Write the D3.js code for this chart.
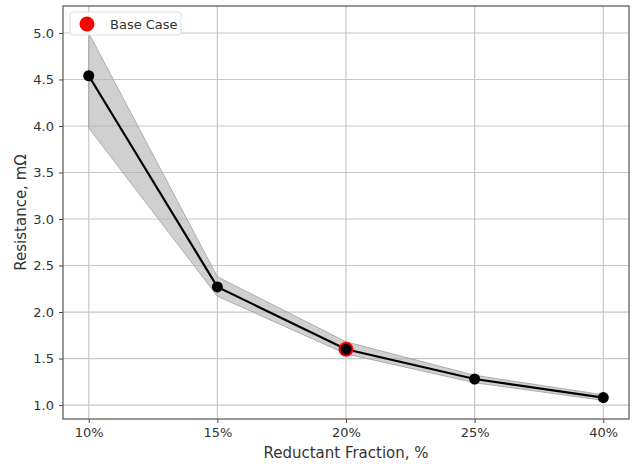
<!DOCTYPE html>
<html>
<head>
<meta charset="utf-8">
<script src="https://cdn.jsdelivr.net/npm/d3@7"></script>
<style>
  body { margin: 0; background: #fff; }
  text { font-family: "DejaVu Sans", sans-serif; fill: #333; }
</style>
</head>
<body>
<div id="chart"></div>
<script>
// data
var categories = ["10%", "15%", "20%", "25%", "40%"];
var resistance = [4.54, 2.27, 1.60, 1.28, 1.08];
var upper = [5.00, 2.38, 1.68, 1.32, 1.11];
var lower = [3.98, 2.17, 1.55, 1.24, 1.05];
var baseCase = "20%";
var yTicks = [1.0, 1.5, 2.0, 2.5, 3.0, 3.5, 4.0, 4.5, 5.0];

// set the dimensions and margins of the graph
var margin = {top: 6, right: 6, bottom: 45, left: 63},
    width = 635 - margin.left - margin.right,
    height = 464 - margin.top - margin.bottom;

var x = d3.scaleLinear()
    .domain([-0.2, categories.length - 1 + 0.2])
    .range([0, width]);
var y = d3.scaleLinear()
    .domain([0.85, 5.29])
    .range([height, 0]);

var svg = d3.select("#chart").append("svg")
    .attr("width", 635)
    .attr("height", 464)
  .append("g")
    .attr("transform", "translate(" + margin.left + "," + margin.top + ")");

var data = categories.map(function(c, i) {
  return {cat: c, i: i, v: resistance[i], hi: upper[i], lo: lower[i]};
});

// grid lines
svg.append("g")
  .selectAll("line")
  .data(yTicks)
  .enter().append("line")
    .attr("x1", 0).attr("x2", width)
    .attr("y1", function(d) { return y(d); })
    .attr("y2", function(d) { return y(d); })
    .style("stroke", "#c8c8c8")
    .style("stroke-width", 1.2);
svg.append("g")
  .selectAll("line")
  .data(data)
  .enter().append("line")
    .attr("x1", function(d) { return x(d.i); })
    .attr("x2", function(d) { return x(d.i); })
    .attr("y1", 0).attr("y2", height)
    .style("stroke", "#c8c8c8")
    .style("stroke-width", 1.2);

// shaded band
var area = d3.area()
    .x(function(d) { return x(d.i); })
    .y0(function(d) { return y(d.lo); })
    .y1(function(d) { return y(d.hi); });
svg.append("path")
    .datum(data)
    .attr("d", area)
    .style("fill", "#b0b0b0")
    .style("fill-opacity", 0.6)
    .style("stroke", "#a0a0a0")
    .style("stroke-width", 0.8);

// main line
var line = d3.line()
    .x(function(d) { return x(d.i); })
    .y(function(d) { return y(d.v); });
svg.append("path")
    .datum(data)
    .attr("d", line)
    .style("fill", "none")
    .style("stroke", "#000")
    .style("stroke-width", 2.2);

// base case marker
svg.selectAll(".base")
    .data(data.filter(function(d) { return d.cat === baseCase; }))
  .enter().append("circle")
    .attr("class", "base")
    .attr("cx", function(d) { return x(d.i); })
    .attr("cy", function(d) { return y(d.v); })
    .attr("r", 7.5)
    .style("fill", "#ff0000");

// points
svg.selectAll(".pt")
    .data(data)
  .enter().append("circle")
    .attr("class", "pt")
    .attr("cx", function(d) { return x(d.i); })
    .attr("cy", function(d) { return y(d.v); })
    .attr("r", 5.5)
    .style("fill", "#000");

// axes
var xAxis = svg.append("g")
    .attr("transform", "translate(0," + height + ")")
    .call(d3.axisBottom(x).tickValues(d3.range(categories.length))
      .tickFormat(function(i) { return categories[i]; })
      .tickSize(4).tickPadding(5));
var yAxis = svg.append("g")
    .call(d3.axisLeft(y).tickValues(yTicks)
      .tickFormat(d3.format(".1f"))
      .tickSize(4).tickPadding(5));
[xAxis, yAxis].forEach(function(a) {
  a.select(".domain").remove();
  a.selectAll("line").style("stroke", "#444");
  a.selectAll("text").style("font-size", "13px").style("fill", "#333");
});

// frame
svg.append("rect")
    .attr("width", width)
    .attr("height", height)
    .style("fill", "none")
    .style("stroke", "#555")
    .style("stroke-width", 1.2);

// legend
var legend = svg.append("g").attr("transform", "translate(7,6)");
legend.append("rect")
    .attr("width", 111)
    .attr("height", 23)
    .attr("rx", 3)
    .style("fill", "#fff")
    .style("fill-opacity", 0.85)
    .style("stroke", "#ddd");
legend.append("circle")
    .attr("cx", 17).attr("cy", 12)
    .attr("r", 7.5)
    .style("fill", "#ff0000");
legend.append("text")
    .attr("x", 40).attr("y", 16.5)
    .style("font-size", "13px")
    .text("Base Case");

// axis labels
svg.append("text")
    .attr("x", width / 2)
    .attr("y", height + 39)
    .attr("text-anchor", "middle")
    .style("font-size", "15px")
    .text("Reductant Fraction, %");
svg.append("text")
    .attr("transform", "rotate(-90)")
    .attr("x", -height / 2)
    .attr("y", -margin.left + 26)
    .attr("text-anchor", "middle")
    .style("font-size", "15px")
    .text("Resistance, mΩ");
</script>
</body>
</html>
